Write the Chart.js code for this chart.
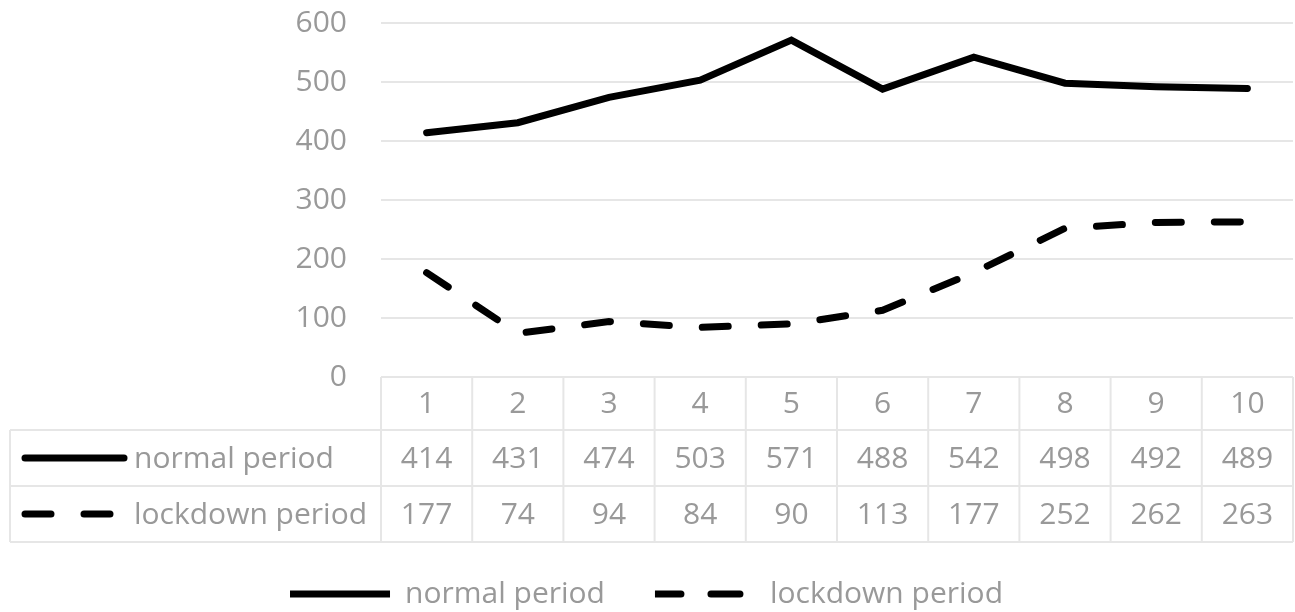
<!DOCTYPE html>
<html>
<head>
<meta charset="utf-8">
<script src="https://cdn.jsdelivr.net/npm/chart.js@4"></script>
<style>
  html, body { margin: 0; padding: 0; background: #fff; }
  #wrap { width: 1295px; height: 612px; }
</style>
</head>
<body>
<div id="wrap"><canvas id="periodChart"></canvas></div>
<script>
var categories = ['1', '2', '3', '4', '5', '6', '7', '8', '9', '10'];
var normalPeriod = [414, 431, 474, 503, 571, 488, 542, 498, 492, 489];
var lockdownPeriod = [177, 74, 94, 84, 90, 113, 177, 252, 262, 263];
var seriesNames = ['normal period', 'lockdown period'];
var yTicks = [0, 100, 200, 300, 400, 500, 600];

var textColor = '#999999';
var gridColor = '#e6e6e6';
var fontFamily = '"Open Sans", sans-serif';

// draws the Excel style data table under the plot, columns taken from the x scale
var dataTable = {
    id: 'dataTable',
    afterDraw: function (chart) {
        var ctx = chart.ctx;
        var x = chart.scales.x;
        var area = chart.chartArea;
        var colW = (area.right - area.left) / categories.length;
        var top = area.bottom;
        var rows = [top, top + 53, top + 109, top + 165];
        var tableLeft = 10;
        var rowValues = [normalPeriod, lockdownPeriod];
        var dashes = [[], [26, 33]];

        ctx.save();
        ctx.strokeStyle = gridColor;
        ctx.lineWidth = 2;
        ctx.beginPath();
        ctx.moveTo(area.left, rows[0]);
        ctx.lineTo(area.right, rows[0]);
        for (var r = 1; r < rows.length; r++) {
            ctx.moveTo(tableLeft, rows[r]);
            ctx.lineTo(area.right, rows[r]);
        }
        ctx.moveTo(tableLeft, rows[1]);
        ctx.lineTo(tableLeft, rows[3]);
        for (var c = 0; c <= categories.length; c++) {
            var cx = area.left + c * colW;
            ctx.moveTo(cx, rows[0]);
            ctx.lineTo(cx, rows[3]);
        }
        ctx.stroke();

        ctx.font = '30px ' + fontFamily;
        ctx.fillStyle = textColor;
        ctx.textAlign = 'center';
        ctx.textBaseline = 'middle';
        categories.forEach(function (lab, i) {
            var px = x.getPixelForValue(i);
            ctx.fillText(lab, px, (rows[0] + rows[1]) / 2 + 1);
            ctx.fillText(String(rowValues[0][i]), px, (rows[1] + rows[2]) / 2 + 1);
            ctx.fillText(String(rowValues[1][i]), px, (rows[2] + rows[3]) / 2 + 1);
        });

        for (var s = 0; s < 2; s++) {
            var cy = (rows[s + 1] + rows[s + 2]) / 2;
            ctx.save();
            ctx.strokeStyle = '#000';
            ctx.lineWidth = 7;
            ctx.lineCap = 'round';
            ctx.setLineDash(dashes[s]);
            ctx.beginPath();
            ctx.moveTo(25, cy);
            ctx.lineTo(s === 0 ? 124 : 114, cy);
            ctx.stroke();
            ctx.restore();
            ctx.textAlign = 'left';
            ctx.fillText(seriesNames[s], 134, cy + 1);
        }
        ctx.restore();
    }
};

var ctx = document.getElementById('periodChart').getContext('2d');
var chart = new Chart(ctx, {
    type: 'line',
    data: {
        labels: categories,
        datasets: [
            {
                label: seriesNames[0],
                data: normalPeriod,
                borderColor: '#000',
                backgroundColor: '#000',
                borderWidth: 7,
                borderCapStyle: 'round',
                pointRadius: 0,
                fill: false,
                tension: 0
            },
            {
                label: seriesNames[1],
                data: lockdownPeriod,
                borderColor: '#000',
                backgroundColor: '#000',
                borderWidth: 7,
                borderDash: [26, 33],
                borderCapStyle: 'round',
                pointRadius: 0,
                fill: false,
                tension: 0
            }
        ]
    },
    options: {
        responsive: true,
        maintainAspectRatio: false,
        animation: {
            duration: 0
        },
        layout: {
            padding: { left: 0, right: 2, top: 0, bottom: -7 }
        },
        plugins: {
            legend: {
                position: 'bottom',
                labels: {
                    boxWidth: 100,
                    boxHeight: 0,
                    padding: 50,
                    color: textColor,
                    font: { family: fontFamily, size: 30 }
                }
            },
            tooltip: { enabled: false }
        },
        scales: {
            x: {
                offset: true,
                grid: { display: false },
                border: { display: false },
                ticks: { display: false },
                afterFit: function (scale) { scale.height = 152; }
            },
            y: {
                min: 0,
                max: 600,
                afterBuildTicks: function (scale) {
                    scale.ticks = yTicks.map(function (v) { return { value: v }; });
                },
                grid: { color: gridColor, lineWidth: 2, drawTicks: false },
                border: { display: false },
                ticks: {
                    padding: 34,
                    color: textColor,
                    font: { family: fontFamily, size: 30 }
                },
                afterFit: function (scale) {
                    scale.width = 381;
                    scale.paddingTop = 23;
                    scale.paddingBottom = 0;
                }
            }
        }
    },
    plugins: [dataTable]
});
</script>
</body>
</html>
